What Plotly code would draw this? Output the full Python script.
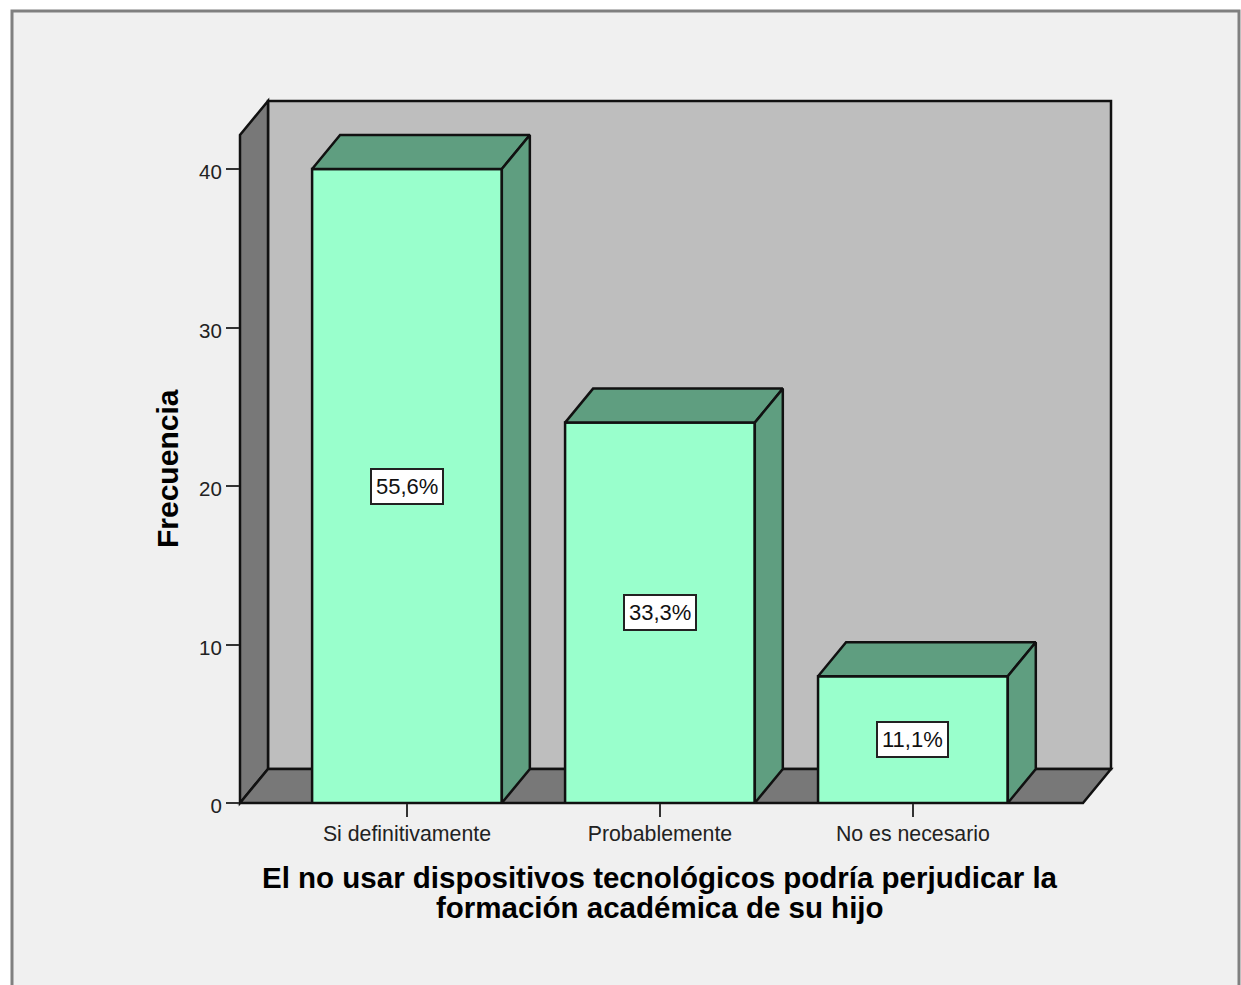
import plotly.graph_objects as go

categories = ['Si definitivamente', 'Probablemente', 'No es necesario']
frequencies = [40, 24, 8]
percent_labels = ['55,6%', '33,3%', '11,1%']
y_ticks = [0, 10, 20, 30, 40]
title_lines = ['El no usar dispositivos tecnológicos podría perjudicar la',
               'formación académica de su hijo']

WIDTH, HEIGHT = 1241, 985
LEFT, RIGHT, TOP, BOTTOM = 240, 1111, 101, 803
X_RANGE = [-0.66, 2.783]
Y_RANGE = [0, 44.29]
BAR_W = 0.75
DX, DY = 0.1107, 2.145  # the fake 3d depth, in axis units

FACE = '#99FFCC'
FACE_DARK = '#5F9E80'
WALL = '#BEBEBE'
WALL_DARK = '#787878'
EDGE = '#111111'
PANEL = '#F0F0F0'
LINE_W = 2.5


def paper_x(px):
    return (px - LEFT) / (RIGHT - LEFT)


def paper_y(py):
    return (BOTTOM - py) / (BOTTOM - TOP)


def wall_path(points):
    # walls go in paper coords, shapes on x/y get clipped at the plot edge
    coords = []
    for x, y in points:
        coords.append(f'{(x - X_RANGE[0]) / (X_RANGE[1] - X_RANGE[0])} {(y - Y_RANGE[0]) / (Y_RANGE[1] - Y_RANGE[0])}')
    return 'M ' + ' L '.join(coords) + ' Z'


x0 = X_RANGE[0]
x1 = X_RANGE[1]
y_top = Y_RANGE[1]

fig = go.Figure()

fig.add_trace(go.Bar(
    x=list(range(len(categories))),
    y=frequencies,
    width=BAR_W,
    marker=dict(color=FACE, line=dict(color=EDGE, width=LINE_W)),
    cliponaxis=False,
    hoverinfo='skip',
))

# top and side faces of each bar
for i, value in enumerate(frequencies):
    left = i - BAR_W / 2
    right = i + BAR_W / 2
    top_x = [left, left + DX, right + DX, right, left]
    top_y = [value, value + DY, value + DY, value, value]
    side_x = [right, right + DX, right + DX, right, right]
    side_y = [value, value + DY, DY, 0, value]
    for xs, ys in ((top_x, top_y), (side_x, side_y)):
        fig.add_trace(go.Scatter(
            x=xs, y=ys, mode='lines', fill='toself', fillcolor=FACE_DARK,
            line=dict(color=EDGE, width=LINE_W), cliponaxis=False, hoverinfo='skip',
        ))

shapes = [
    # panel behind everything, runs off the bottom of the page
    dict(type='rect', xref='paper', yref='paper', layer='below',
         x0=paper_x(12), x1=paper_x(1239), y0=paper_y(1000), y1=paper_y(11),
         fillcolor=PANEL, line=dict(color='#808080', width=3)),
    # back wall
    dict(type='path', xref='paper', yref='paper', layer='below',
         path=wall_path([(x0 + DX, DY), (x0 + DX, y_top), (x1, y_top), (x1, DY)]),
         fillcolor=WALL, line=dict(color=EDGE, width=LINE_W)),
    # left wall
    dict(type='path', xref='paper', yref='paper', layer='below',
         path=wall_path([(x0, 0), (x0, y_top - DY), (x0 + DX, y_top), (x0 + DX, DY)]),
         fillcolor=WALL_DARK, line=dict(color=EDGE, width=LINE_W)),
    # floor
    dict(type='path', xref='paper', yref='paper', layer='below',
         path=wall_path([(x0, 0), (x0 + DX, DY), (x1, DY), (x1 - DX, 0)]),
         fillcolor=WALL_DARK, line=dict(color=EDGE, width=LINE_W)),
]

annotations = []
for i, value in enumerate(frequencies):
    annotations.append(dict(
        x=i, y=value / 2, xref='x', yref='y', text=percent_labels[i], showarrow=False,
        font=dict(family='Liberation Sans', size=22, color='#111111'),
        bgcolor='white', bordercolor='#222222', borderwidth=2, borderpad=4,
    ))

for line, py in zip(title_lines, [877, 908]):
    annotations.append(dict(
        x=1, y=paper_y(py), xref='x', yref='paper', showarrow=False,
        xanchor='center', yanchor='middle',
        text=f'<b>{line}</b>',
        font=dict(family='Liberation Sans', size=29.5, color='#000000'),
    ))
annotations.append(dict(
    x=paper_x(167), y=paper_y(469), xref='paper', yref='paper', showarrow=False,
    xanchor='center', yanchor='middle',
    text='<b>Frecuencia</b>', textangle=-90,
    font=dict(family='Liberation Sans', size=30, color='#000000'),
))

fig.update_layout(
    width=WIDTH,
    height=HEIGHT,
    margin=dict(l=LEFT, r=WIDTH - RIGHT, t=TOP, b=HEIGHT - BOTTOM, pad=0),
    paper_bgcolor='white',
    plot_bgcolor='rgba(0,0,0,0)',
    showlegend=False,
    shapes=shapes,
    annotations=annotations,
    xaxis=dict(
        range=X_RANGE, tickmode='array', tickvals=[0, 1, 2], ticktext=categories,
        ticks='outside', ticklen=13, tickwidth=2, tickcolor='#333333',
        ticklabelstandoff=-2,
        showgrid=False, zeroline=False, showline=False,
        tickfont=dict(family='Liberation Sans', size=21.3, color='#222222'),
    ),
    yaxis=dict(
        range=Y_RANGE, tickmode='array', tickvals=y_ticks,
        ticks='outside', ticklen=13, tickwidth=2, tickcolor='#333333',
        ticklabelshift=3,
        showgrid=False, zeroline=False, showline=False,
        tickfont=dict(family='Liberation Sans', size=20.5, color='#222222'),
    ),
)

fig.write_html("out.html", config=dict(displayModeBar=False),
               post_script="document.body.style.margin='0';")
